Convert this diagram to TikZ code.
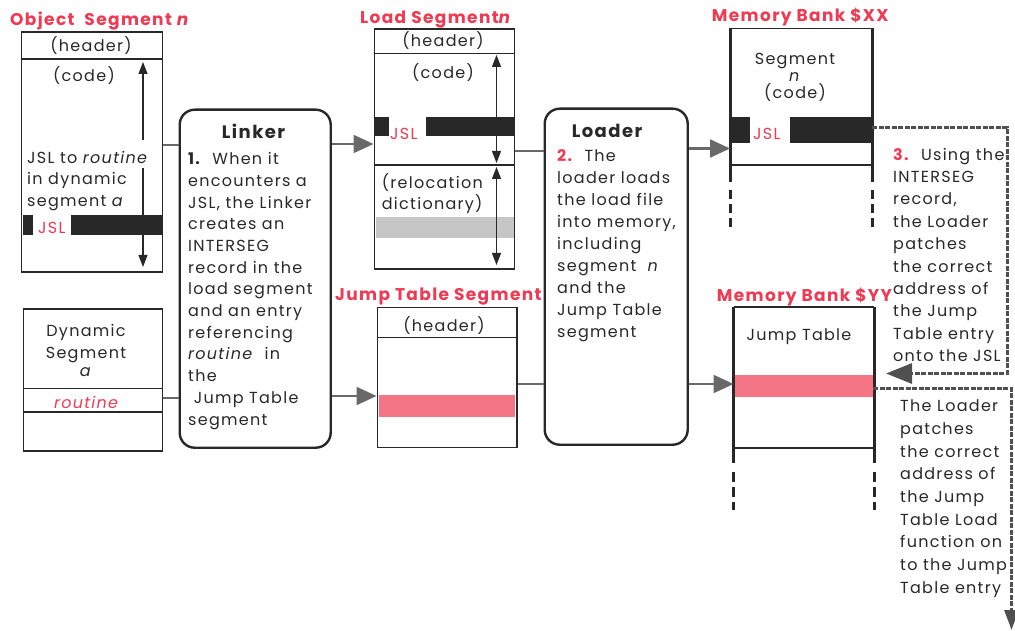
\documentclass[tikz,border=0pt]{standalone}
\usepackage{fontspec}
\setmainfont{Poppins}[LetterSpace=8]
\usetikzlibrary{arrows.meta}
\definecolor{myred}{RGB}{238,58,82}
\definecolor{ink}{RGB}{40,40,40}
\definecolor{conn}{RGB}{105,105,105}
\definecolor{dconn}{RGB}{80,80,80}
\begin{document}
\begin{tikzpicture}[x=1pt,y=-1pt,
  box/.style={draw=ink, line width=1.6pt, inner sep=0, anchor=north west},
  roundbox/.style={draw=ink, line width=2.4pt, rounded corners=15pt, inner sep=0, anchor=north west},
  txt/.style={text=ink, font=\fontsize{16}{21.7}\selectfont, align=left, inner sep=0, anchor=base west},
  ctxt/.style={text=ink, font=\fontsize{16}{18}\selectfont, inner sep=0, anchor=base},
  rtxt/.style={text=myred, font=\fontsize{16}{18}\selectfont, inner sep=0, anchor=base west},
  ttl/.style={text=myred, font=\fontsize{17}{18}\selectfont\bfseries, inner sep=0, anchor=base west},
  head/.style={text=ink, font=\fontsize{18}{20}\selectfont\bfseries, inner sep=0, anchor=base},
  bar/.style={fill=ink, inner sep=0, anchor=north west},
  link/.style={draw=conn, line width=2.2pt},
  larrow/.style={link, -{Triangle[length=20pt,width=18pt]}},
  dlink/.style={draw=dconn, line width=3pt, dash pattern=on 5pt off 1.5pt},
  varrow/.style={draw=ink, line width=1.2pt, -{Triangle[length=12pt,width=9pt]}},
  dvarrow/.style={draw=ink, line width=1.2pt, {Triangle[length=12pt,width=9pt]}-{Triangle[length=12pt,width=9pt]}},
  mline/.style={draw=ink, line width=3pt},
  hline/.style={draw=ink, line width=1.8pt},
]
\useasboundingbox (0,0) rectangle (1015,631);

% ---------- Object Segment n ----------
\node[ttl] (objt) at (10,26) {Object\ \ Segment \textit{n}};
\node[box, minimum width=141pt, minimum height=240pt] (obj) at (20.5,31) {};
\draw[hline, line width=1.6pt] (obj.west |- 0,59) -- (obj.east |- 0,59);
\node[ctxt] (objh) at (91,52) {(header)};
\node[ctxt] (objc) at (84,82) {(code)};
\node[txt] (objtx) at (27,206.5) {JSL to \textit{routine}\\in dynamic\\segment \textit{a}};
\node[bar, minimum width=10pt, minimum height=20pt] (objsq) at (23,215) {};
\node[rtxt] (objjsl) at (38,234) {JSL};
\node[bar, minimum width=91pt, minimum height=20pt] (objbar) at (70.5,215) {};
\coordinate (oa1) at (143,140); \coordinate (oa2) at (143,62);
\coordinate (oa3) at (143,168); \coordinate (oa4) at (143,267);
\draw[varrow] (oa1) -- (oa2);
\draw[varrow] (oa3) -- (oa4);

% ---------- Dynamic Segment a ----------
\node[box, minimum width=139pt, minimum height=142pt] (dyn) at (22.7,308.3) {};
\draw[hline, line width=1.6pt] (dyn.west |- 0,388.3) -- (dyn.east |- 0,388.3);
\draw[hline, line width=1.6pt] (dyn.west |- 0,411.7) -- (dyn.east |- 0,411.7);
\node[ctxt] (dyn1) at (86,336.7) {Dynamic};
\node[ctxt] (dyn2) at (86,358.3) {Segment};
\node[ctxt] (dyn3) at (86,376.7) {\textit{a}};
\node[ctxt, text=myred] (dynr) at (86.7,408.3) {\textit{routine}};

% ---------- Linker ----------
\node[roundbox, minimum width=151pt, minimum height=338pt] (linker) at (178.5,108.5) {};
\node[head] (linkh) at (253.5,139) {Linker};
\node[txt] (linktx) at (188,425) {\textbf{1.}\ \ When it\\encounters a\\JSL, the Linker\\creates an\\INTERSEG\\record in the\\load segment\\and an entry\\referencing\\\textit{routine}\ \ in\\the\\\ Jump Table\\segment};

% ---------- Load Segment n ----------
\node[ttl] (loadt) at (360,23.3) {Load Segment\textit{n}};
\node[box, minimum width=140pt, minimum height=240pt] (load) at (373.5,28.5) {};
\draw[hline, line width=1.6pt] (load.west |- 0,53.5) -- (load.east |- 0,53.5);
\draw[hline, line width=1.6pt] (load.west |- 0,165) -- (load.east |- 0,165);
\node[ctxt] (loadh) at (443,46.7) {(header)};
\node[ctxt] (loadc) at (443,78.3) {(code)};
\node[bar, minimum width=14pt, minimum height=19pt] (loadsq) at (375,117) {};
\node[rtxt] (loadjsl) at (390,139.3) {JSL};
\node[bar, minimum width=87.5pt, minimum height=19pt] (loadbar) at (426,117) {};
\node[txt] (loadrel) at (381.7,210) {(relocation\\dictionary)};
\node[fill=gray!45, inner sep=0, anchor=north west, minimum width=137.5pt, minimum height=21pt] (loadgray) at (376,217) {};
\coordinate (la1) at (496.5,55); \coordinate (la2) at (496.5,163);
\coordinate (la3) at (496.5,167); \coordinate (la4) at (496.5,265);
\draw[dvarrow] (la1) -- (la2);
\draw[dvarrow] (la3) -- (la4);

% ---------- Jump Table Segment ----------
\node[ttl] (jtst) at (335,300) {Jump Table Segment};
\node[box, minimum width=139.5pt, minimum height=140pt] (jts) at (376.5,306.5) {};
\draw[hline, line width=1.6pt] (jts.west |- 0,337.5) -- (jts.east |- 0,337.5);
\node[ctxt] (jtsh) at (444,331.7) {(header)};
\node[fill=myred!70, inner sep=0, anchor=north west, minimum width=136pt, minimum height=22pt] (jtsred) at (379,394.5) {};

% ---------- Loader ----------
\node[roundbox, minimum width=143pt, minimum height=336pt] (loader) at (543.5,107.5) {};
\node[head] (loadh2) at (607,138) {Loader};
\node[txt, font=\fontsize{16}{22}\selectfont] (loadtx) at (557,337.7) {\textcolor{myred}{\textbf{2.}}\ \ The\\loader loads\\the load file\\into memory,\\including\\segment \ \textit{n}\\and the\\Jump Table\\segment};

% ---------- Memory Bank $XX ----------
\node[ttl] (mxxt) at (711.7,21.7) {Memory Bank \$XX};
\node[inner sep=0, anchor=north west, minimum width=142pt, minimum height=136.5pt] (mxx) at (730,28.5) {};
\draw[hline] (mxx.north west) -- (mxx.north east);
\draw[hline] (mxx.south west) -- (mxx.south east);
\draw[mline] (mxx.north west) -- ([yshift=-16.7pt]mxx.south west);
\draw[mline] (mxx.north east) -- ([yshift=-16.7pt]mxx.south east);
\draw[mline, dash pattern=on 9pt off 5pt] ([yshift=-25pt]mxx.south west) -- ([yshift=-63pt]mxx.south west);
\draw[mline, dash pattern=on 9pt off 5pt] ([yshift=-25pt]mxx.south east) -- ([yshift=-63pt]mxx.south east);
\node[ctxt] (mxx1) at (795,65) {Segment};
\node[ctxt] (mxx2) at (795,81.7) {\textit{n}};
\node[ctxt] (mxx3) at (795,98.3) {(code)};
\node[bar, minimum width=20pt, minimum height=26pt] (mxxsq) at (730,117.3) {};
\node[rtxt] (mxxjsl) at (753,140) {JSL};
\node[bar, minimum width=82pt, minimum height=26pt] (mxxbar) at (790,117.3) {};

% ---------- Memory Bank $YY ----------
\node[ttl] (myyt) at (716.7,301.7) {Memory Bank \$YY};
\node[inner sep=0, anchor=north west, minimum width=140.5pt, minimum height=140.6pt] (myy) at (733.5,306.7) {};
\draw[hline] (myy.north west) -- (myy.north east);
\draw[hline] (myy.south west) -- (myy.south east);
\draw[mline] (myy.north west) -- ([yshift=-15.7pt]myy.south west);
\draw[mline] (myy.north east) -- ([yshift=-15.7pt]myy.south east);
\draw[mline, dash pattern=on 10pt off 5pt] ([yshift=-24.4pt]myy.south west) -- ([yshift=-62.7pt]myy.south west);
\draw[mline, dash pattern=on 10pt off 5pt] ([yshift=-24.4pt]myy.south east) -- ([yshift=-62.7pt]myy.south east);
\node[ctxt] (myy1) at (799,340) {Jump Table};
\node[fill=myred!70, inner sep=0, anchor=north west, minimum width=138pt, minimum height=21.7pt] (myyred) at (735,375) {};

% ---------- Right-hand texts ----------
\node[txt, font=\fontsize{16}{22.4}\selectfont] (r3) at (893,361.6) {\textcolor{myred}{\textbf{3.}}\ \ Using the\\INTERSEG\\record,\\the Loader\\patches\\the correct\\address of\\the Jump\\Table entry\\onto the JSL};
\node[txt, font=\fontsize{16}{22.7}\selectfont] (r4) at (900,593.3) {The Loader\\patches\\the correct\\address of\\the Jump\\Table Load\\function on\\to the Jump\\Table entry};

% ---------- Connectors ----------
\draw[link] (obj.east |- 0,145) -- (linker.west |- 0,145);
\draw[link] (dyn.east |- 0,398) -- (linker.west |- 0,398);
\draw[larrow] (linker.east |- 0,144) -- (load.west |- 0,144);
\draw[larrow] (linker.east |- 0,396) -- (jts.west |- 0,396);
\draw[link] (load.east |- 0,151) -- (loader.west |- 0,151);
\draw[link] (jts.east |- 0,384) -- (loader.west |- 0,384);
\draw[larrow] (loader.east |- 0,148.5) -- (mxx.west |- 0,148.5);
\draw[larrow] (loader.east |- 0,384) -- (myy.west |- 0,384);
\coordinate (c1) at (1007,127.3);
\coordinate (c2) at (1007,373.5);
\coordinate (c3) at (886,373.5);
\draw[dlink, -{Triangle[length=26pt,width=20pt]}] (mxxbar.east |- c1) -- (c1) -- (c2) -- (c3);
\coordinate (d1) at (1011.5,388.3);
\coordinate (d2) at (1011.5,630);
\draw[dlink, -{Triangle[length=20pt,width=14pt]}] (myyred.east |- d1) -- (d1) -- (d2);
\end{tikzpicture}
\end{document}
